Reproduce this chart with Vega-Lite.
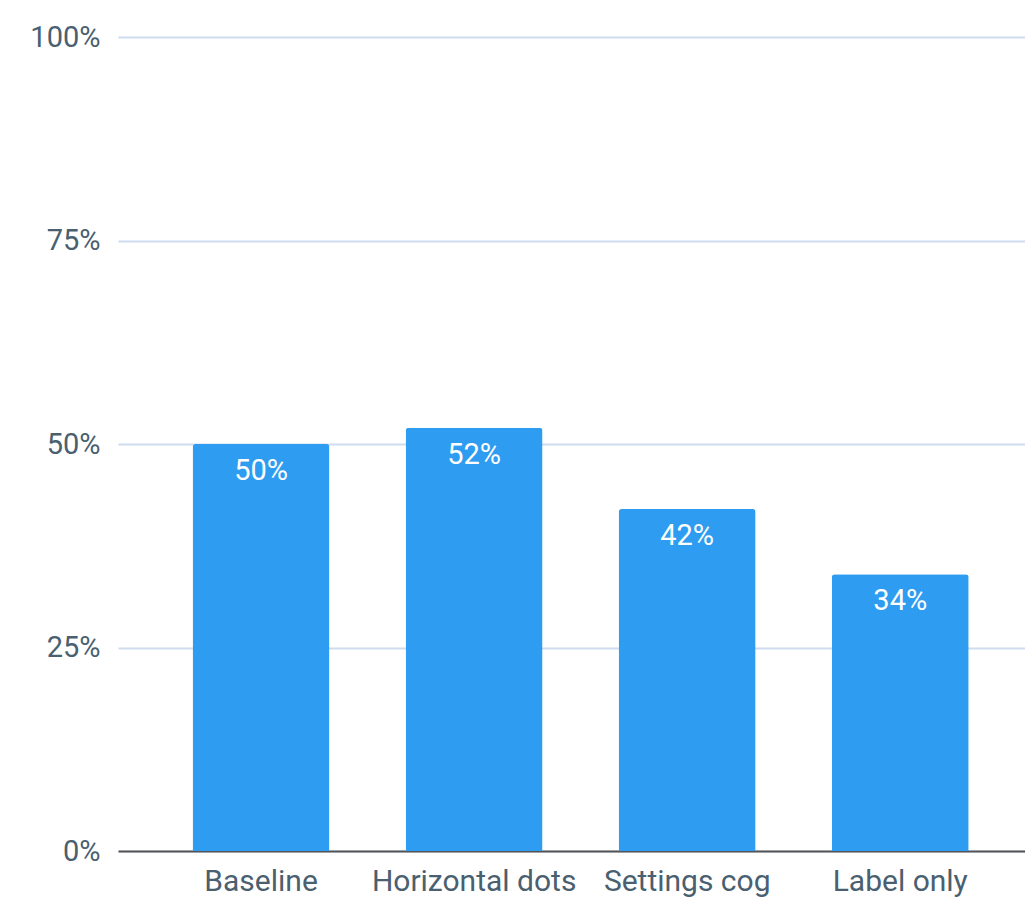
{
  "$schema": "https://vega.github.io/schema/vega-lite/v6.json",
  "autosize": "none",
  "padding": {"left": 118, "top": 37, "right": 0, "bottom": 48},
  "width": 907,
  "height": 814,
  "background": "white",
  "data": {"values": [
    {"variant": "Baseline", "rate": 0.50},
    {"variant": "Horizontal dots", "rate": 0.52},
    {"variant": "Settings cog", "rate": 0.42},
    {"variant": "Label only", "rate": 0.34}
  ]},
  "config": {
    "view": {"stroke": null},
    "font": "Roboto",
    "axis": {"labelFont": "Roboto", "labelColor": "#4a5f70", "labelFontSize": 29, "title": null, "labelLimit": 0}
  },
  "encoding": {
    "x": {
      "field": "variant", "type": "nominal", "sort": null,
      "scale": {"paddingInner": 0.357, "paddingOuter": 0.307, "align": 0.57},
      "axis": {"labelAngle": 0, "ticks": false, "domainColor": "#555555", "domainWidth": 2, "labelPadding": 15, "grid": false, "labelFontSize": 30}
    },
    "y": {
      "field": "rate", "type": "quantitative",
      "scale": {"domain": [0, 1]},
      "axis": {"values": [0, 0.25, 0.5, 0.75, 1], "format": ".0%", "ticks": false, "domain": false, "gridColor": "#cfdcef", "gridWidth": 2, "labelPadding": 18}
    }
  },
  "layer": [
    {"mark": {"type": "bar", "color": "#2e9cf0", "cornerRadiusTopLeft": 3, "cornerRadiusTopRight": 3}},
    {"mark": {"type": "text", "color": "white", "fontSize": 29, "baseline": "top", "dy": 13, "font": "Roboto"},
     "encoding": {"text": {"field": "rate", "format": ".0%"}}}
  ]
}
